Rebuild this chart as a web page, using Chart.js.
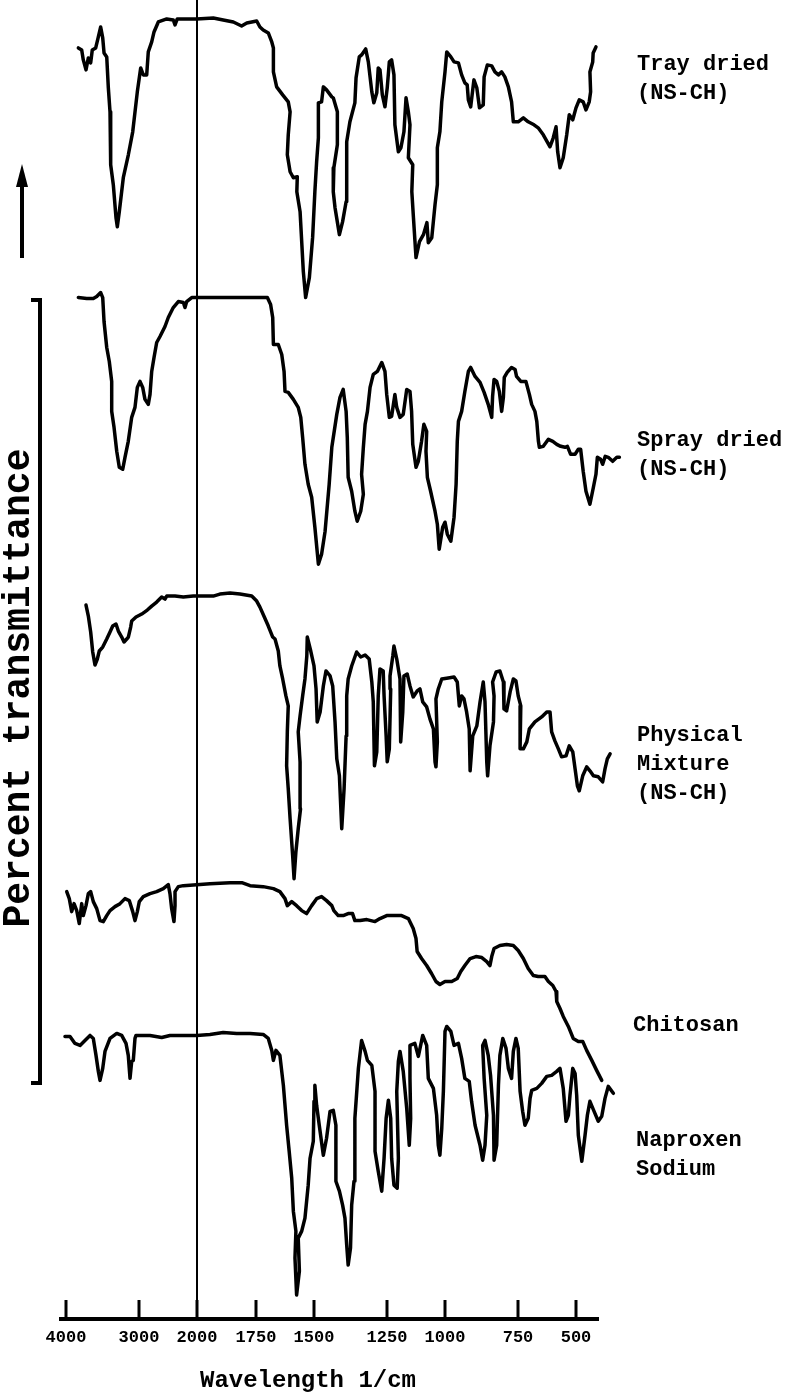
<!DOCTYPE html>
<html>
<head>
<meta charset="utf-8">
<script src="https://cdn.jsdelivr.net/npm/chart.js@4/dist/chart.umd.min.js"></script>
<style>
  html, body { margin: 0; padding: 0; background: #fff; }
  #wrap { width: 799px; height: 1393px; }
</style>
</head>
<body>
<div id="wrap"><canvas id="ftir" width="799" height="1393"></canvas></div>
<script>
// FTIR spectra, stacked, drawn with chart.js
// https://www.chartjs.org/

// wavenumber axis: tick labels and where each one sits along the (hand drawn, uneven) axis
const tickWavenumbers = [4000, 3000, 2000, 1750, 1500, 1250, 1000, 750, 500];
const tickStops = [0, 73, 131, 190, 248, 321, 379, 452, 510];

const seriesNames = [
    ['Tray dried', '(NS-CH)'],
    ['Spray dried', '(NS-CH)'],
    ['Physical', 'Mixture', '(NS-CH)'],
    ['Chitosan'],
    ['Naproxen', 'Sodium']
];

// Tray dried (NS-CH)
const trayWn = [3831,3785,3763,3726,3694,3662,3640,3593,3557,3525,3497,3479,3442,3420,3397,3388,3352,3315,3297,3270,
    3215,3146,3086,3023,2971,2926,2867,2840,2781,2741,2667,2522,2409,2379,2340,2005,1931,1889,1846,1811,
    1789,1747,1733,1719,1697,1682,1675,1675,1661,1635,1611,1603,1611,1615,1603,1589,1572,1574,1560,1546,
    1536,1520,1506,1497,1491,1485,1485,1474,1468,1457,1439,1434,1420,1420,1432,1434,1428,1413,1402,1390,
    1388,1388,1377,1360,1356,1345,1337,1323,1314,1302,1295,1285,1280,1274,1266,1257,1249,1240,1230,1220,
    1216,1201,1190,1177,1168,1158,1151,1158,1139,1143,1136,1125,1110,1093,1078,1072,1057,1043,1033,1033,
    1022,1014,1000,994,980,969,954,943,932,924,920,912,901,891,882,869,866,855,840,829,
    817,806,795,783,772,766,749,727,706,681,663,641,612,598,586,579,569,555,540,529,
    514,500,486,469,457,443,437,440,428,426,414];
const trayT = [127.3,127.1,126.1,125.1,126.3,125.8,127.1,127.3,128.4,129.4,128.3,126.8,126.4,123.3,120.9,115.6,113.6,110.3,109.4,110.9,
    114.3,116.6,118.9,122.9,125.3,124.6,124.6,126.9,127.9,128.9,129.9,130.2,130.1,129.6,130.2,130.2,130.3,130.1,129.9,129.5,
    129.8,130.0,129.4,129.1,128.8,127.9,127.3,124.9,123.4,122.6,121.9,120.9,118.6,116.6,114.9,114.3,114.4,112.9,110.9,104.9,
    102.3,104.3,108.3,112.9,115.9,118.3,121.8,121.9,123.4,123.1,122.4,122.3,120.9,117.6,115.3,112.9,111.3,108.6,109.9,111.9,
    113.9,117.9,119.9,121.8,124.3,126.4,126.6,127.2,125.9,122.9,121.8,122.8,125.3,125.1,122.6,121.4,123.3,125.9,126.1,124.6,
    119.6,116.9,117.3,118.9,122.3,120.9,119.6,116.3,115.6,112.9,110.3,106.3,107.9,108.6,109.8,107.8,108.3,111.6,113.6,117.3,
    118.9,121.9,124.9,126.9,126.4,125.9,125.8,124.6,123.8,123.6,122.1,121.4,124.1,123.3,121.3,121.6,124.4,125.6,125.5,124.9,
    124.6,124.9,124.4,123.4,121.9,119.9,119.9,120.3,119.9,119.6,119.3,118.6,117.4,118.3,119.4,116.9,115.3,116.3,118.6,120.6,
    120.1,121.3,122.1,121.9,121.1,121.9,122.9,124.9,125.9,126.8,127.4];

// Spray dried (NS-CH)
const sprayWn = [3831,3716,3626,3579,3525,3497,3479,3442,3407,3374,3374,3342,3305,3270,3223,3192,3147,3100,3055,3023,
    2983,2936,2897,2840,2810,2781,2741,2695,2638,2552,2495,2409,2322,2236,2207,2178,2091,2005,1874,1733,
    1701,1687,1678,1675,1654,1639,1629,1625,1611,1589,1568,1557,1549,1539,1525,1510,1497,1485,1474,1462,
    1448,1439,1422,1411,1400,1390,1386,1383,1371,1360,1352,1340,1331,1337,1331,1325,1317,1308,1297,1283,
    1268,1257,1251,1240,1230,1216,1208,1194,1180,1165,1151,1144,1139,1125,1115,1101,1091,1079,1082,1076,
    1062,1043,1033,1025,1010,1000,992,980,969,962,958,954,943,932,920,912,897,880,866,852,
    840,837,832,823,814,806,800,797,787,772,760,755,738,716,701,691,677,669,662,658,
    641,619,600,583,566,547,537,523,504,490,480,469,457,440,425,414,408,394,385,374,
    361,342,324,313];
const sprayT = [102.3,102.2,102.2,102.4,102.8,102.3,99.9,97.3,95.9,93.9,90.9,89.3,86.9,85.3,85.1,86.3,87.9,90.3,91.3,93.3,
    93.9,93.3,92.1,91.6,92.6,94.9,96.3,97.8,98.4,99.4,100.3,101.3,101.9,101.8,101.3,101.9,102.3,102.3,102.3,102.3,
    102.3,101.6,100.3,97.6,97.6,96.6,94.9,92.9,92.8,92.1,91.3,90.3,88.3,85.6,83.6,82.3,79.3,75.6,76.6,78.9,
    83.6,87.3,90.6,92.3,93.1,90.9,88.3,84.3,82.9,80.9,79.9,80.9,82.6,84.6,87.3,89.6,90.9,93.3,94.6,94.9,
    95.8,94.9,92.6,90.3,90.4,92.6,91.3,90.3,90.6,93.1,92.9,90.9,87.6,85.3,85.9,87.9,89.6,88.9,86.9,84.3,
    82.9,80.9,79.6,77.1,79.3,79.8,78.6,77.9,80.3,83.6,87.9,89.9,90.9,92.9,94.9,95.3,94.4,93.8,92.8,91.6,
    90.3,92.4,94.1,93.9,92.9,90.9,92.3,94.3,94.8,95.3,95.1,94.4,93.9,93.9,92.6,91.6,90.9,89.9,87.9,87.3,
    87.4,88.1,87.9,87.6,87.4,87.3,87.4,86.6,86.6,87.1,87.1,84.9,82.9,81.6,83.3,84.6,86.3,86.1,85.6,86.4,
    86.3,85.9,86.3,86.3];

// Physical mixture (NS-CH)
const mixWn = [3726,3694,3662,3634,3603,3571,3544,3497,3442,3397,3360,3315,3283,3237,3205,3168,3146,3114,3100,3041,
    2953,2857,2781,2695,2609,2552,2522,2379,2236,2064,1959,1931,1903,1860,1818,1768,1747,1733,1716,1697,
    1678,1668,1654,1647,1635,1621,1611,1615,1618,1611,1603,1592,1586,1578,1568,1558,1560,1568,1560,1549,
    1539,1531,1529,1514,1500,1493,1489,1479,1468,1459,1445,1436,1428,1422,1413,1405,1397,1390,1388,1383,
    1371,1354,1340,1325,1311,1302,1297,1293,1285,1280,1274,1263,1260,1253,1249,1240,1234,1237,1225,1220,
    1208,1194,1191,1182,1177,1163,1151,1137,1120,1108,1096,1079,1065,1050,1043,1039,1033,1039,1029,1014,
    989,969,958,951,943,935,926,917,914,905,891,880,869,863,857,854,846,834,832,837,
    825,812,800,798,789,777,766,757,749,738,741,727,712,701,677,648,626,612,605,591,
    576,562,543,529,514,504,494,486,471,454,440,425,404,385,375,365,353];
const mixT = [71.5,70.4,68.8,66.8,65.5,66.1,66.9,67.3,68.1,68.8,69.4,69.6,68.9,68.3,67.8,68.1,68.3,69.3,69.9,70.3,
    70.6,71.0,71.4,71.8,72.3,72.1,72.4,72.4,72.3,72.4,72.4,72.4,72.6,72.7,72.6,72.4,71.9,71.3,70.4,69.4,
    68.3,68.1,66.9,65.4,64.1,62.4,61.4,58.8,55.4,53.1,50.1,46.4,44.1,46.8,49.1,51.1,55.8,58.8,60.4,62.4,
    64.1,66.4,68.3,66.9,65.4,63.1,59.8,60.8,63.4,64.9,64.4,63.4,59.8,56.1,54.4,49.1,53.1,58.4,62.4,64.1,
    65.4,66.8,66.3,66.5,66.1,63.8,61.8,55.4,56.8,62.4,65.1,64.9,62.4,58.4,55.8,57.1,63.1,64.4,66.4,67.4,
    66.1,64.1,57.8,60.8,64.4,64.6,63.4,62.3,62.9,63.1,61.8,61.3,60.1,59.1,55.8,55.3,57.8,62.1,63.1,64.1,
    64.2,64.3,63.8,61.4,62.4,62.1,60.8,59.1,54.9,58.4,59.4,61.8,63.8,61.8,55.8,54.4,57.4,59.8,62.4,63.8,
    64.8,64.9,63.8,61.1,60.9,62.8,64.1,63.9,62.4,61.4,57.1,57.1,57.8,59.1,59.8,60.3,60.8,60.8,58.8,57.9,
    57.1,56.3,56.4,57.4,56.8,55.1,53.4,52.9,54.4,55.3,54.9,54.4,54.3,53.8,55.1,56.1,56.6];

// Chitosan
const chitosanWn = [3990,3955,3922,3890,3853,3818,3785,3763,3726,3694,3662,3626,3579,3534,3489,3442,3397,3329,3260,3192,
    3133,3086,3055,3023,2995,2926,2810,2695,2581,2495,2466,2437,2397,2379,2379,2322,2236,2005,1945,1860,
    1810,1775,1719,1675,1647,1625,1615,1596,1575,1553,1532,1510,1491,1474,1457,1439,1432,1417,1400,1383,
    1368,1360,1342,1319,1291,1274,1251,1223,1187,1158,1137,1125,1120,1101,1079,1058,1039,1022,1000,977,
    958,946,932,914,894,874,857,846,840,832,812,789,766,749,727,706,684,663,634,619,
    600,586,583,569,555,533,512,490,471,454,432,411,389];
const chitosanT = [42.8,42.1,40.8,41.6,40.9,39.6,41.6,40.4,41.4,42.6,42.8,41.8,41.1,39.9,39.8,40.4,40.9,41.3,41.6,42.1,
    41.9,40.8,39.9,40.8,41.8,42.3,42.6,42.8,43.1,43.5,42.6,41.1,39.8,41.4,42.8,43.3,43.4,43.5,43.6,43.7,
    43.7,43.4,43.3,43.1,42.8,42.1,41.4,41.8,41.4,40.9,40.6,41.4,42.1,42.3,41.9,41.4,40.9,40.4,40.4,40.6,
    40.6,39.9,39.9,40.0,39.8,40.1,40.4,40.4,40.4,40.1,39.1,38.1,36.8,36.1,35.4,34.6,33.8,33.5,33.8,33.8,
    34.1,34.8,35.4,36.1,36.3,36.2,35.8,35.4,36.3,37.1,37.4,37.5,37.4,36.9,36.1,35.1,34.4,34.3,34.3,33.8,
    33.4,32.8,31.8,31.1,30.3,29.3,28.1,27.8,27.8,26.9,25.9,24.9,23.9];

// Naproxen sodium
const naproxenWn = [4014,3945,3877,3808,3740,3671,3626,3589,3557,3534,3497,3466,3397,3305,3237,3178,3147,3123,3100,3078,
    3055,3041,2810,2609,2466,2236,2005,1945,1889,1832,1775,1719,1697,1682,1675,1664,1647,1632,1618,1607,
    1596,1589,1578,1582,1575,1563,1568,1553,1539,1525,1517,1503,1500,1497,1491,1482,1468,1457,1445,1434,
    1425,1425,1413,1402,1394,1388,1383,1375,1371,1363,1360,1348,1337,1325,1317,1302,1291,1291,1280,1268,
    1260,1253,1244,1234,1230,1220,1206,1201,1208,1201,1194,1180,1165,1154,1148,1151,1151,1130,1115,1096,
    1079,1072,1050,1036,1029,1022,1014,1007,1000,994,980,969,954,943,932,917,909,897,880,871,
    863,857,866,871,863,852,844,834,832,823,817,812,802,791,783,772,766,757,749,741,
    730,720,706,698,691,669,648,626,605,583,569,555,543,533,526,514,504,497,490,475,
    461,451,440,422,404,389,375,361,339];
const naproxenT = [28.3,28.3,27.6,27.4,27.9,28.4,28.1,26.4,24.8,23.9,25.1,26.8,28.1,28.6,28.4,27.6,26.4,24.1,25.8,25.9,
    28.1,28.4,28.4,28.2,28.4,28.4,28.4,28.5,28.7,28.6,28.6,28.5,28.1,26.9,25.9,26.9,26.4,23.4,19.4,16.8,
    14.1,10.8,8.8,6.1,2.4,4.8,8.1,8.8,10.1,13.4,16.1,17.8,21.8,23.4,21.4,19.4,16.4,18.1,20.8,20.9,
    19.4,13.8,12.8,11.4,10.1,7.4,5.4,7.1,11.4,13.8,20.1,25.1,27.9,26.8,25.9,25.4,22.8,16.8,14.8,12.8,
    16.1,20.1,21.9,20.1,16.1,13.4,13.1,16.1,22.8,25.8,26.8,24.8,21.1,17.4,20.1,24.1,27.4,27.6,26.3,28.4,
    27.4,24.1,23.1,20.4,17.4,16.4,19.1,22.8,28.8,29.3,28.8,27.4,27.6,26.1,24.1,23.8,21.8,19.4,17.4,15.9,
    17.4,20.4,24.1,27.4,27.9,26.4,24.4,20.4,15.9,17.4,23.4,26.4,28.1,27.1,25.1,24.1,26.8,28.1,27.1,22.8,
    20.8,19.4,20.1,22.1,22.9,23.1,23.6,24.3,24.4,24.8,25.1,23.1,19.8,20.4,22.4,25.1,24.6,22.4,18.4,15.8,
    18.4,20.4,21.8,20.8,19.8,20.3,22.1,23.3,22.6];

// position along the axis for a wavenumber (piecewise linear between the tick marks)
const wnToPos = (wn) => {
    let i = 0;
    while (i < tickWavenumbers.length - 2 && wn < tickWavenumbers[i + 1]) i++;
    const w0 = tickWavenumbers[i], w1 = tickWavenumbers[i + 1];
    const p0 = tickStops[i], p1 = tickStops[i + 1];
    return p0 + (w0 - wn) / (w0 - w1) * (p1 - p0);
};

const toPoints = (wn, t) => wn.map((w, i) => ({ x: wnToPos(w), y: t[i] }));

const spectra = [
    [trayWn, trayT],
    [sprayWn, sprayT],
    [mixWn, mixT],
    [chitosanWn, chitosanT],
    [naproxenWn, naproxenT]
];

const MONO = "'Liberation Mono', 'Courier New', monospace";

// label spots on the right, arrow, bracket, axis line and the 2000 marker
const decorations = {
    id: 'decorations',
    afterDatasetsDraw(chart) {
        const { ctx, chartArea, scales: { x } } = chart;
        const axisY = chartArea.bottom;
        const seg = (x1, y1, x2, y2) => {
            ctx.beginPath();
            ctx.moveTo(x1, y1);
            ctx.lineTo(x2, y2);
            ctx.stroke();
        };
        ctx.save();
        ctx.strokeStyle = '#000';
        ctx.fillStyle = '#000';

        // marker at 2000
        const x2000 = x.getPixelForValue(wnToPos(2000));
        ctx.lineWidth = 2;
        seg(x2000, 0, x2000, axisY);

        // axis line and tick marks (ticks go up)
        const xStart = x.getPixelForValue(wnToPos(4000));
        const xEnd = x.getPixelForValue(wnToPos(500));
        ctx.lineWidth = 4;
        seg(xStart - 7, axisY, xEnd + 23, axisY);
        ctx.lineWidth = 3;
        x.ticks.forEach(t => {
            const px = x.getPixelForValue(t.value);
            seg(px, axisY - 19, px, axisY);
        });

        // series names
        ctx.font = 'bold 22px ' + MONO;
        ctx.textBaseline = 'middle';
        ctx.textAlign = 'left';
        const labelSpots = [[637, 64], [637, 440], [637, 735], [633, 1025], [636, 1140]];
        seriesNames.forEach((lines, k) => {
            const [lx, ly] = labelSpots[k];
            lines.forEach((txt, j) => ctx.fillText(txt, lx, ly + j * 29));
        });

        // y title
        ctx.save();
        ctx.translate(19, 688);
        ctx.rotate(-Math.PI / 2);
        ctx.textAlign = 'center';
        ctx.font = 'bold 38px ' + MONO;
        ctx.fillText('Percent transmittance', 0, 0);
        ctx.restore();

        // bracket
        ctx.lineWidth = 4;
        ctx.beginPath();
        ctx.moveTo(31, 300);
        ctx.lineTo(40, 300);
        ctx.lineTo(40, 1083);
        ctx.lineTo(31, 1083);
        ctx.stroke();

        // arrow
        ctx.lineWidth = 4;
        seg(22, 258, 22, 182);
        ctx.beginPath();
        ctx.moveTo(16, 187);
        ctx.lineTo(28, 187);
        ctx.lineTo(22, 164);
        ctx.closePath();
        ctx.fill();

        ctx.restore();
    }
};

const ftirChart = () => {
    const data = {
        datasets: spectra.map(([wn, t], k) => ({
            label: seriesNames[k].join(' '),
            data: toPoints(wn, t),
            borderColor: '#000',
            borderWidth: 3.5,
            borderJoinStyle: 'round',
            borderCapStyle: 'round',
            pointRadius: 0,
            fill: false,
            tension: 0,
            clip: false
        }))
    };
    const config = {
        type: 'line',
        data: data,
        options: {
            responsive: false,
            animation: false,
            layout: { padding: { left: 0, right: 183, top: 0, bottom: 0 } },
            plugins: {
                legend: { display: false },
                tooltip: { enabled: false }
            },
            scales: {
                x: {
                    type: 'linear',
                    min: -66,
                    max: 550,
                    grid: { display: false, drawTicks: false },
                    border: { display: false },
                    afterBuildTicks: (scale) => {
                        scale.ticks = tickWavenumbers.map(w => ({ value: wnToPos(w) }));
                    },
                    ticks: {
                        autoSkip: false,
                        maxRotation: 0,
                        padding: 9,
                        color: '#000',
                        font: { family: MONO, size: 17, weight: 'bold' },
                        callback: (value, index) => String(tickWavenumbers[index])
                    },
                    title: {
                        display: true,
                        text: 'Wavelength 1/cm',
                        color: '#000',
                        font: { family: MONO, size: 24, weight: 'bold', lineHeight: 1 },
                        padding: { top: 11.6, bottom: 0 }
                    }
                },
                y: {
                    display: false,
                    min: 0,
                    max: 132.1
                }
            }
        },
        plugins: [decorations]
    };
    const ctx = document.getElementById('ftir');
    new Chart(ctx, config);
};

ftirChart();
</script>
</body>
</html>
